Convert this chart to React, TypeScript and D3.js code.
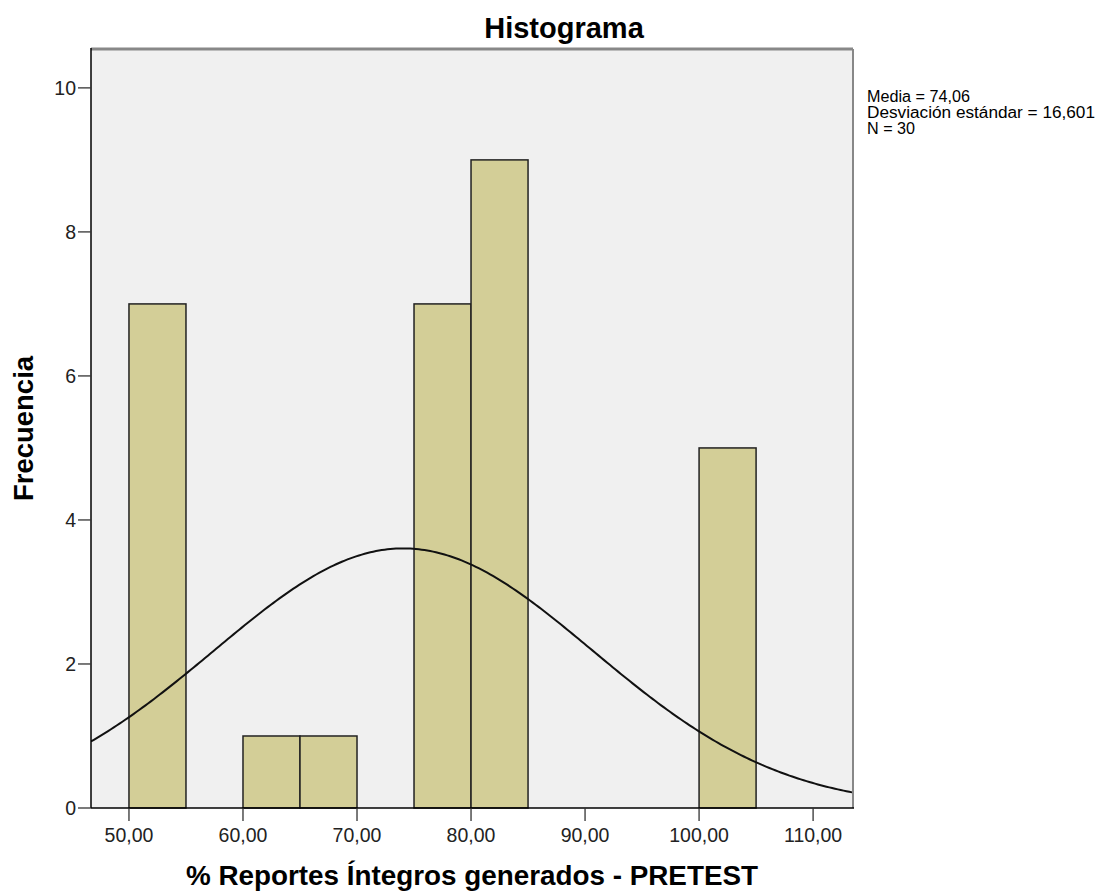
import React from "react";
import * as d3 from "d3";

const binStarts = [50, 60, 65, 75, 80, 100];
const binCounts = [7, 1, 1, 7, 9, 5];
const binWidth = 5;
const xTicks = [50, 60, 70, 80, 90, 100, 110];
const yTicks = [0, 2, 4, 6, 8, 10];
const mean = 74.06;
const sd = 16.601;
const n = 30;
const statLines = ["Media = 74,06", "Desviación estándar = 16,601", "N = 30"];
const statWidths = [103, 228, 48];

export default function App() {
  const W = 1114, H = 893;
  const L = 91, R = 853, T = 49, B = 808;
  const x = d3.scaleLinear().domain([46.67, 113.5]).range([L, R]);
  const y = d3.scaleLinear().domain([0, 10.54]).range([B, T]);
  const fmt = (v: number) => v.toFixed(2).replace(".", ",");
  const pts = d3.range(x.domain()[0], x.domain()[1] + 0.01, 0.25).map((v) => {
    const pdf = Math.exp(-0.5 * ((v - mean) / sd) ** 2) / (sd * Math.sqrt(2 * Math.PI));
    return [v, n * binWidth * pdf] as [number, number];
  });
  const line = d3.line<[number, number]>().x((d) => x(d[0])).y((d) => y(d[1]));
  return (
    <svg width={W} height={H} style={{ position: "absolute", left: 0, top: 0 }} fontFamily="Liberation Sans, Arial, sans-serif">
      <rect x={0} y={0} width={W} height={H} fill="#fff" />
      <rect x={L} y={T} width={R - L} height={B - T} fill="#f0f0f0" />
      <defs>
        <clipPath id="pc"><rect x={L} y={T} width={R - L} height={B - T} /></clipPath>
      </defs>
      {binStarts.map((s, i) => (
        <rect key={i} x={x(s)} y={y(binCounts[i])} width={x(s + binWidth) - x(s)} height={B - y(binCounts[i])}
          fill="#d3ce97" stroke="#222" strokeWidth={1.5} />
      ))}
      <path d={line(pts) || ""} fill="none" stroke="#111" strokeWidth={2} clipPath="url(#pc)" />
      <line x1={L} x2={R} y1={T} y2={T} stroke="#888" strokeWidth={3} />
      <line x1={R} x2={R} y1={T} y2={B} stroke="#888" strokeWidth={2} />
      <line x1={L} x2={L} y1={T - 1} y2={B} stroke="#000" strokeWidth={1.5} />
      <line x1={L} x2={R + 1} y1={B} y2={B} stroke="#000" strokeWidth={1.5} />
      {yTicks.map((t) => (
        <g key={t}>
          <line x1={L - 13} x2={L} y1={y(t)} y2={y(t)} stroke="#333" strokeWidth={1.3} />
          <text x={L - 15} y={y(t) + 7} textAnchor="end" fontSize={19.5} fill="#222">{t}</text>
        </g>
      ))}
      {xTicks.map((t) => (
        <g key={t}>
          <line x1={x(t)} x2={x(t)} y1={B} y2={B + 13} stroke="#333" strokeWidth={1.3} />
          <text x={x(t)} y={B + 34} textAnchor="middle" fontSize={19.5} fill="#222">{fmt(t)}</text>
        </g>
      ))}
      <text x={564} y={38} textAnchor="middle" fontSize={29} fontWeight="bold" fill="#000">Histograma</text>
      <text x={(L + R) / 2} y={885} textAnchor="middle" fontSize={27.5} fontWeight="bold" fill="#000" textLength={572} lengthAdjust="spacingAndGlyphs">% Reportes Íntegros generados - PRETEST</text>
      <text transform={`translate(33,${(T + B) / 2}) rotate(-90)`} textAnchor="middle" fontSize={27.5} fontWeight="bold" fill="#000">Frecuencia</text>
      {statLines.map((s, i) => (
        <text key={i} x={867} y={101.5 + i * 16} fontSize={16} fill="#000" textLength={statWidths[i]} lengthAdjust="spacingAndGlyphs">{s}</text>
      ))}
    </svg>
  );
}
